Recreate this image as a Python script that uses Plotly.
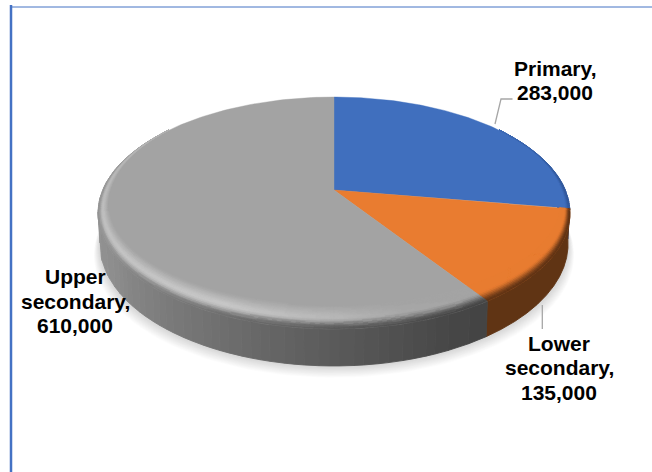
import numpy as np
import plotly.graph_objects as go

# Enrolment by education level
categories = [["Primary,"], ["Lower", "secondary,"], ["Upper", "secondary,"]]
values = [283000, 135000, 610000]
face_colors = ["#406fbe", "#e97c30", "#a3a3a3"]
wall_colors = ["#2f5597", "#5f3314", None]

# Label placement, one centre per text line
label_x = [555, 559, 75]
label_y = [[68, 92], [343, 367, 392], [276, 301, 325]]

# Perspective disc model
CX, CY = 334.0, 190.0
RX, RY, K = 231.3, 111.4, 0.198
DEPTH = 29.7


def project(theta, r=1.0, t=0.0):
    """Map a clockwise angle (degrees from 12 o'clock) on the disc to plot coordinates."""
    a = np.radians(theta)
    dx, dy = r * np.sin(a), r * np.cos(a)
    w = 1.0 / (1.0 + K * dy)
    shrink = 1.0 - 0.008 * t
    return CX + RX * dx * w * shrink, CY - RY * dy * w + DEPTH * t * w


def bevel_width(theta):
    """Radial width of the rounded rim: broad at the front, vanishing at the back."""
    c = -np.cos(np.radians(theta))
    return 0.035 * np.clip((c + 0.6) / 0.6, 0, 1) + 0.105 * np.clip(c, 0, 1) ** 1.5


def to_rgb(c):
    return np.array([int(c[i:i + 2], 16) for i in (1, 3, 5)], dtype=float)


def to_hex(rgb, step=2):
    q = np.clip(np.round(np.asarray(rgb) / step) * step, 0, 255).astype(int)
    return "#%02x%02x%02x" % tuple(q)


def gray(v):
    return np.array([v, v, v], dtype=float)


def wall_rgb(idx, theta):
    if idx == 2:
        return gray(np.interp(theta, [146, 155, 180, 205, 240, 285, 335],
                              [0x44, 0x46, 0x5a, 0x70, 0x8e, 0x9a, 0xa3]))
    if idx == 0:
        # The blue rim fades back into the face as it turns away
        fade = np.clip((theta - 40) / 50, 0, 1)
        face = to_rgb(face_colors[0])
        return face + (to_rgb(wall_colors[0]) - face) * fade
    return to_rgb(wall_colors[idx])


def peak_rgb(idx, theta):
    if idx == 2:
        return gray(np.interp(theta, [146, 165, 180, 205, 240, 285, 330],
                              [0xa3, 0xa8, 0xb8, 0xc8, 0xc4, 0xb8, 0xa8]))
    return to_rgb(face_colors[idx])


def bevel_rgb(idx, theta, s):
    face = to_rgb(face_colors[idx])
    peak = peak_rgb(idx, theta)
    wall = wall_rgb(idx, theta)
    if s < 0.5:
        return face + (peak - face) * (s / 0.5)
    u = (s - 0.5) / 0.5
    u = u * u * (3 - 2 * u)
    return peak + (wall - peak) * u


total = sum(values)
edges = np.concatenate([[0], np.cumsum(values) / total * 360.0])
spans = [(edges[i], edges[i + 1]) for i in range(len(values))]


def slice_index(theta):
    for i, (a, b) in enumerate(spans):
        if a <= theta < b:
            return i
    return len(values) - 1


def add_strip(fig, color, xs, ys, width):
    fig.add_trace(go.Scatter(
        x=xs, y=ys, mode="lines", fill="toself", fillcolor=color,
        line=dict(color=color, width=width), hoverinfo="skip", showlegend=False))


def add_poly(groups, color, xs, ys):
    bucket = groups.setdefault(color, ([], []))
    bucket[0].extend(list(xs) + [xs[0], None])
    bucket[1].extend(list(ys) + [ys[0], None])


fig = go.Figure()

# Soft drop shadow under the disc
shadow_angles = np.linspace(60, 300, 120)
for e in range(14, 0, -1):
    sx, sy = project(shadow_angles, 1, 1)
    a = np.radians(shadow_angles)
    fig.add_trace(go.Scatter(
        x=sx + 0.45 * e * np.sin(a), y=sy + 0.85 * e,
        mode="lines", fill="toself", fillcolor="rgba(0,0,0,0.012)",
        line=dict(width=0), hoverinfo="skip", showlegend=False))

# Side wall, merged into contiguous runs of one tone so no seams appear between them
wall_angles = np.unique(np.concatenate([np.arange(75, 286, 1.0), edges[1:3]]))
runs = []
for a0, a1 in zip(wall_angles[:-1], wall_angles[1:]):
    mid = (a0 + a1) / 2
    color = to_hex(wall_rgb(slice_index(mid), mid))
    if runs and runs[-1][0] == color:
        runs[-1][2] = a1
    else:
        runs.append([color, a0, a1])
for color, a0, a1 in runs:
    arc = np.linspace(a0, a1, 12)
    tx, ty = project(arc, 1, 0)
    bx, by = project(arc[::-1], 1, 1)
    add_strip(fig, color, np.concatenate([tx, bx, tx[:1]]), np.concatenate([ty, by, ty[:1]]), 0.9)

# Top faces of the slices
for i, (a, b) in enumerate(spans):
    arc = np.linspace(a, b, 160)
    ax, ay = project(arc)
    cx, cy = project(0.0, 0.0)
    add_strip(fig, face_colors[i], np.concatenate([[cx], ax, [cx]]), np.concatenate([[cy], ay, [cy]]), 0.4)

# Rounded rim running around the top face
rim = {}
rim_angles = np.unique(np.concatenate([np.arange(0, 360.5, 1.0), edges[1:3]]))
s_steps = np.linspace(0, 1, 15)
for a0, a1 in zip(rim_angles[:-1], rim_angles[1:]):
    mid = (a0 + a1) / 2
    idx = slice_index(mid)
    b0, b1 = bevel_width(a0), bevel_width(a1)
    if max(b0, b1) <= 0:
        continue
    for s0, s1 in zip(s_steps[:-1], s_steps[1:]):
        x00, y00 = project(a0, 1 - b0 * (1 - s0))
        x10, y10 = project(a1, 1 - b1 * (1 - s0))
        x11, y11 = project(a1, 1 - b1 * (1 - s1))
        x01, y01 = project(a0, 1 - b0 * (1 - s1))
        add_poly(rim, to_hex(bevel_rgb(idx, mid, (s0 + s1) / 2)),
                 [x00, x10, x11, x01], [y00, y10, y11, y01])
for color, (xs, ys) in rim.items():
    add_strip(fig, color, xs, ys, 0.7)

# Leader lines
for lx, ly in [([495, 501, 512.5], [124, 99, 99]), ([542.3, 542.3], [305, 329])]:
    fig.add_trace(go.Scatter(x=lx, y=ly, mode="lines", line=dict(color="#a6a6a6", width=1.3),
                             hoverinfo="skip", showlegend=False))

# Category and value labels, one annotation per line for tight leading
for name_lines, value, x, ys in zip(categories, values, label_x, label_y):
    for text, y in zip(name_lines + [f"{value:,}"], ys):
        fig.add_annotation(x=x, y=y, text=text, showarrow=False, xanchor="center", yanchor="middle",
                           font=dict(family="Liberation Sans", size=21, color="#000000", weight="bold"))

# Chart frame
frame = "#4472c4"
fig.add_shape(type="line", x0=10, x1=652, y0=7, y1=7, line=dict(color=frame, width=1))
fig.add_shape(type="line", x0=11, x1=11, y0=5, y1=472, line=dict(color=frame, width=2.5))

fig.update_xaxes(range=[0, 652], visible=False, fixedrange=True)
fig.update_yaxes(range=[472, 0], visible=False, fixedrange=True)
fig.update_layout(width=652, height=472, margin=dict(l=0, r=0, t=0, b=0),
                  paper_bgcolor="white", plot_bgcolor="white", showlegend=False)

fig.write_html("out.html", config={"displayModeBar": False})
